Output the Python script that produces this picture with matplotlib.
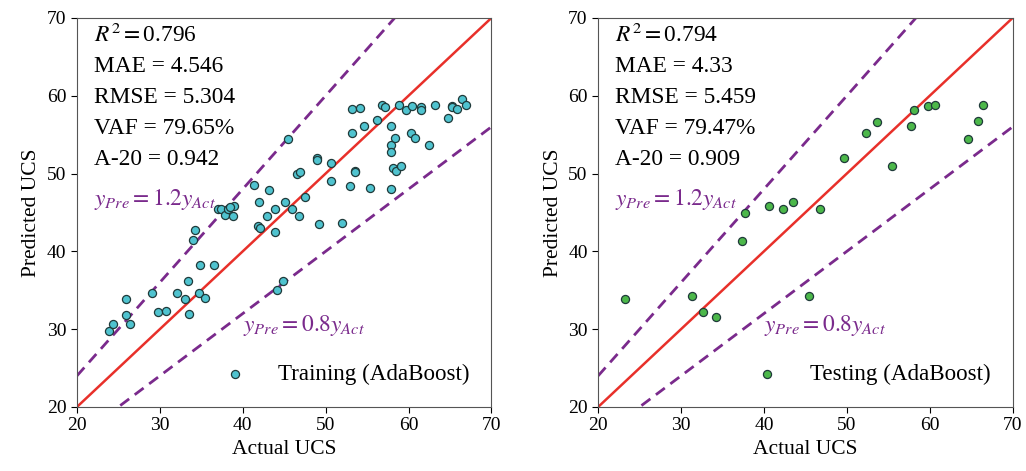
import numpy as np
import matplotlib
matplotlib.use("Agg")
import matplotlib.pyplot as plt

plt.rcParams["font.family"] = ["Liberation Serif", "DejaVu Serif"]
plt.rcParams["mathtext.fontset"] = "stix"

# Training set: actual vs predicted UCS
train_act = [23.9, 24.3, 25.9, 25.9, 26.4, 29.0, 29.8, 30.7, 32.1, 33.0, 33.4, 33.5,
             34.7, 35.5, 34.8, 36.5, 34.0, 34.3, 37.0, 37.4, 37.8, 38.2, 38.8, 39.0,
             38.5, 41.4, 42.0, 41.8, 42.1, 43.2, 42.9, 43.9, 43.9, 45.1, 45.4, 44.9,
             44.1, 46.0, 46.8, 46.6, 46.9, 47.5, 48.9, 49.0, 49.2, 50.7, 50.7, 52.0,
             52.9, 53.2, 53.2, 54.2, 53.6, 53.6, 54.6, 55.3, 56.2, 56.8, 57.2, 57.9,
             57.9, 57.9, 58.4, 57.9, 58.1, 58.5, 59.1, 58.9, 59.7, 60.4, 60.3, 60.8,
             61.5, 61.5, 62.5, 63.2, 64.8, 65.2, 65.3, 65.8, 66.4, 66.9]
train_pre = [29.7, 30.7, 33.9, 31.8, 30.6, 34.6, 32.2, 32.3, 34.7, 33.9, 36.2, 32.0,
             34.6, 34.0, 38.2, 38.2, 41.4, 42.8, 45.5, 45.5, 44.7, 45.4, 44.5, 45.8,
             45.7, 48.5, 46.4, 43.2, 43.0, 47.9, 44.5, 42.5, 45.5, 46.4, 54.5, 36.2,
             35.0, 45.5, 44.6, 49.9, 50.2, 47.0, 52.0, 51.8, 43.5, 51.3, 49.0, 43.7,
             48.4, 55.2, 58.3, 58.4, 50.3, 50.2, 56.1, 48.1, 56.9, 58.8, 58.6, 56.1,
             53.7, 52.8, 54.6, 48.0, 50.7, 50.3, 51.0, 58.8, 58.2, 58.7, 55.2, 54.6,
             58.6, 58.2, 53.7, 58.8, 57.1, 58.7, 58.5, 58.3, 59.6, 58.8]

# Testing set
test_act = [23.2, 31.3, 32.7, 34.2, 37.4, 37.7, 40.6, 42.3, 43.5, 46.8, 45.4,
            49.6, 52.3, 53.6, 55.5, 57.7, 58.1, 59.8, 60.6, 64.6, 65.8, 66.4]
test_pre = [33.9, 34.2, 32.2, 31.5, 41.3, 44.9, 45.8, 45.5, 46.4, 45.5, 34.3,
            52.0, 55.2, 56.6, 51.0, 56.1, 58.2, 58.7, 58.8, 54.4, 56.8, 58.8]

train_metrics = ["$R^2=$0.796", "MAE = 4.546", "RMSE = 5.304", "VAF = 79.65%", "A-20 = 0.942"]
test_metrics = ["$R^2=$0.794", "MAE = 4.33", "RMSE = 5.459", "VAF = 79.47%", "A-20 = 0.909"]

PURPLE = "#7a2a8c"


def draw_panel(ax, act, pre, color, label, metrics):
    lims = np.array([20, 70])
    ax.plot(lims, lims, color="#e8302a", lw=1.8, zorder=2)
    ax.plot(lims, 1.2 * lims, color=PURPLE, lw=2, ls=(0, (4, 2.5)), zorder=2)
    ax.plot(lims, 0.8 * lims, color=PURPLE, lw=2, ls=(0, (4, 2.5)), zorder=2)
    ax.scatter(act, pre, s=34, color=color, edgecolor="#1f3a3a", linewidth=0.9,
               label=label, zorder=3)

    for i, t in enumerate(metrics):
        ax.text(22.0, 67.8 - 4.0 * i, t, fontsize=16.8, va="center", ha="left")
    ax.text(22.0, 46.6, "$y_{Pre}=1.2y_{Act}$", fontsize=16.8, color=PURPLE,
            va="center", ha="left")
    ax.text(40.0, 30.5, "$y_{Pre}=0.8y_{Act}$", fontsize=16.8, color=PURPLE,
            va="center", ha="left")

    ax.set_xlim(20, 70)
    ax.set_ylim(20, 70)
    ax.set_xticks(range(20, 71, 10))
    ax.set_yticks(range(20, 71, 10))
    ax.tick_params(labelsize=14, length=4)
    ax.set_xlabel("Actual UCS", fontsize=15.5)
    ax.set_ylabel("Predicted UCS", fontsize=15.5)
    for sp in ax.spines.values():
        sp.set_color("#555555")
    ax.legend(loc="lower right", frameon=False, fontsize=16.6, handletextpad=0.85,
              borderaxespad=0.55)


fig = plt.figure(figsize=(10.26, 4.71), dpi=100)
ax1 = fig.add_axes([0.075, 0.136, 0.404, 0.826])
ax2 = fig.add_axes([0.583, 0.136, 0.404, 0.826])

draw_panel(ax1, train_act, train_pre, "#4fc3cf", "Training (AdaBoost)", train_metrics)
draw_panel(ax2, test_act, test_pre, "#4cb84a", "Testing (AdaBoost)", test_metrics)

fig.savefig("out.png", dpi=100)
